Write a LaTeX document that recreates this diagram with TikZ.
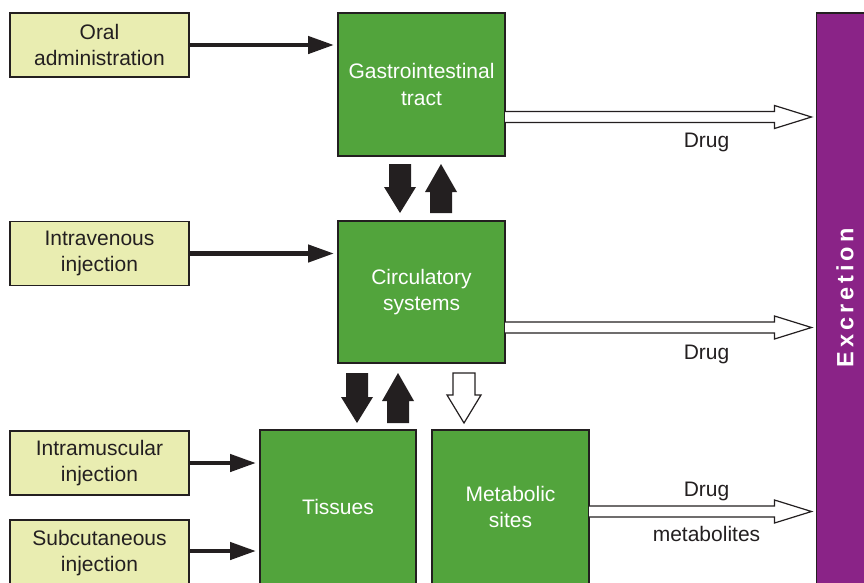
\documentclass[tikz,border=0pt]{standalone}
\usepackage{fontspec}
\setmainfont{Liberation Sans}
\usetikzlibrary{arrows.meta,calc}
\definecolor{srcfill}{HTML}{E9EDB1}
\definecolor{organ}{HTML}{52A43C}
\definecolor{excr}{HTML}{8A2387}
\definecolor{ink}{HTML}{231F20}
\tikzset{
  box/.style={draw=ink, line width=1.3pt, inner sep=0pt, outer sep=0pt, align=center,
    font=\fontsize{21}{26.5}\selectfont},
  srcbox/.style={box, fill=srcfill, text=ink, minimum width=179pt, minimum height=64pt},
  organbox/.style={box, fill=organ, text=white},
  feed/.style={draw=ink, line width=4.5pt, -{Triangle[length=26pt,width=17pt]}, shorten >=4pt},
  hollow/.style={draw=ink, fill=white, line width=1.2pt, line join=miter},
  solid block/.style={fill=ink},
  open block/.style={draw=ink, fill=white, line width=1.2pt, line join=miter},
  lbl/.style={text=ink, font=\fontsize{21}{26}\selectfont}
}
% vertical block arrows: #1 style, #2 tail, #3 tip
\newcommand{\fatdown}[3]{\path[#1] ($(#2)+(-11,0)$) -- ($(#3)+(-11,-26)$) -- ($(#3)+(-16,-26)$) -- (#3)
  -- ($(#3)+(16,-26)$) -- ($(#3)+(11,-26)$) -- ($(#2)+(11,0)$) -- cycle;}
\newcommand{\fatup}[3]{\path[#1] ($(#2)+(-11,0)$) -- ($(#3)+(-11,28)$) -- ($(#3)+(-16,28)$) -- (#3)
  -- ($(#3)+(16,28)$) -- ($(#3)+(11,28)$) -- ($(#2)+(11,0)$) -- cycle;}
% long hollow arrow to excretion: #1 tail, #2 tip
\newcommand{\outflow}[2]{\draw[hollow] ($(#1)+(0,-5.5)$) -- ($(#2)+(-37,-5.5)$) -- ($(#2)+(-37,-11.5)$) -- (#2)
  -- ($(#2)+(-37,11.5)$) -- ($(#2)+(-37,5.5)$) -- ($(#1)+(0,5.5)$);}
\begin{document}
\begin{tikzpicture}[x=1pt,y=-1pt]
  \useasboundingbox (0,0) rectangle (864,582);
  % sources
  \node[srcbox] (oral) at (99.5,45) {Oral\\administration};
  \node[srcbox] (iv) at (99.5,253.5) {Intravenous\\injection};
  \node[srcbox] (im) at (99.5,463) {Intramuscular\\injection};
  \node[srcbox, minimum height=66pt] (sc) at (99.5,553) {Subcutaneous\\injection};
  % organs
  \node[organbox, minimum width=167pt, minimum height=143pt] (gi) at (421.5,84.5) {Gastrointestinal\\tract};
  \node[organbox, minimum width=167pt, minimum height=142pt] (circ) at (421.5,292) {Circulatory\\systems};
  \node[organbox, minimum width=156pt, minimum height=154pt] (tis) at (338,507) {Tissues};
  \node[organbox, minimum width=157pt, minimum height=154pt] (met) at (510.5,507) {Metabolic\\sites};
  % excretion
  \node[box, fill=excr, minimum width=49pt, minimum height=590pt] (exc) at (841,308) {};
  \node[rotate=90, text=white, font=\fontsize{23.5}{26}\selectfont\bfseries\addfontfeature{LetterSpace=17}]
    (exctxt) at (845,298) {Excretion};
  % entry routes
  \draw[feed] (oral.east) -- (oral.east -| gi.west);
  \draw[feed] (iv.east) -- (iv.east -| circ.west);
  \draw[feed] (im.east) -- (im.east -| tis.west);
  \draw[feed] ($(sc.east)+(0,-2)$) -- ($(sc.east -| tis.west)+(0,-2)$);
  % exchange between organs
  \coordinate (dn1top) at ($(gi.south)+(-21.5,8)$);
  \coordinate (dn1tip) at ($(circ.north)+(-21.5,-8)$);
  \coordinate (up1bot) at ($(circ.north)+(19.5,-8)$);
  \coordinate (up1tip) at ($(gi.south)+(19.5,8)$);
  \fatdown{solid block}{dn1top}{dn1tip}
  \fatup{solid block}{up1bot}{up1tip}
  \coordinate (dn2top) at ($(circ.south -| tis.center)+(19,10)$);
  \coordinate (dn2tip) at ($(tis.north)+(19,-7)$);
  \coordinate (up2bot) at ($(tis.north)+(60,-7)$);
  \coordinate (up2tip) at ($(circ.south -| tis.center)+(60,10)$);
  \fatdown{solid block}{dn2top}{dn2tip}
  \fatup{solid block}{up2bot}{up2tip}
  \coordinate (dn3top) at ($(circ.south -| met.center)+(-46.5,10)$);
  \coordinate (dn3tip) at ($(met.north)+(-46.5,-7)$);
  \path[open block] ($(dn3top)+(-11,0)$) -- ($(dn3tip)+(-11,-28)$) -- ($(dn3tip)+(-17,-28)$) -- (dn3tip)
    -- ($(dn3tip)+(17,-28)$) -- ($(dn3tip)+(11,-28)$) -- ($(dn3top)+(11,0)$) -- cycle;
  % outflow to excretion
  \coordinate (gitip) at ($(gi.east -| exc.west)+(-5,32.5)$);
  \outflow{$(gi.east)+(0,32.5)$}{gitip}
  \coordinate (circtip) at ($(circ.east -| exc.west)+(-5,35.5)$);
  \outflow{$(circ.east)+(0,35.5)$}{circtip}
  \coordinate (mettip) at ($(met.east -| exc.west)+(-5,4.5)$);
  \outflow{$(met.east)+(0,4.5)$}{mettip}
  \node[lbl] (drug1) at ($(gitip)+(-105,25)$) {Drug};
  \node[lbl] (drug2) at ($(circtip)+(-105,27)$) {Drug};
  \node[lbl] (drug3) at ($(mettip)+(-105,-20.5)$) {Drug};
  \node[lbl] (metab) at ($(mettip)+(-105,22)$) {metabolites};
\end{tikzpicture}
\end{document}
